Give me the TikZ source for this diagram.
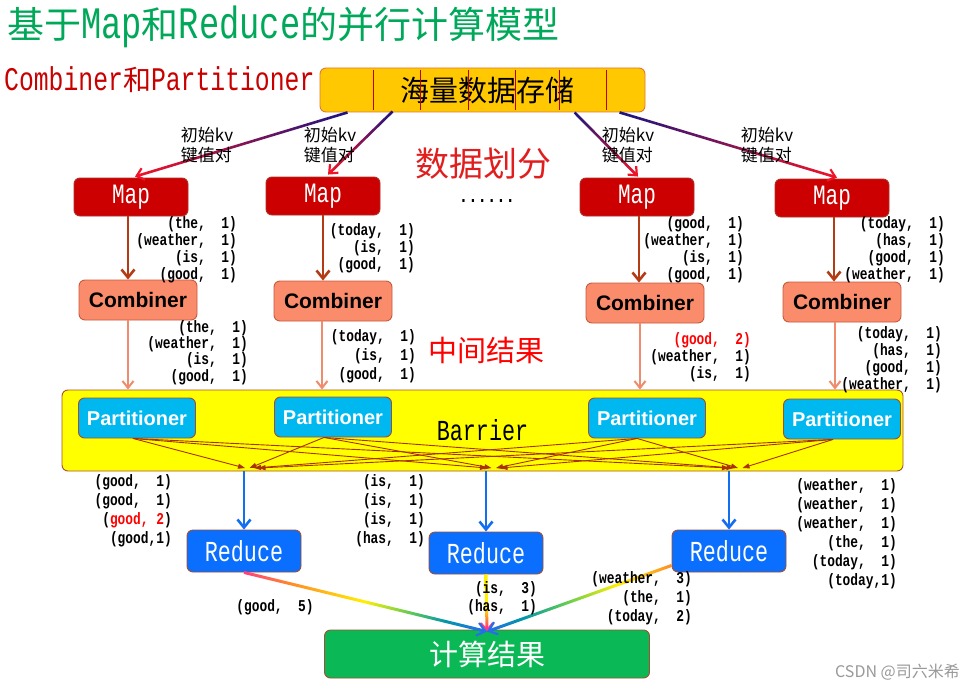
\documentclass[tikz,border=0pt]{standalone}
\usepackage{fontspec}
\usetikzlibrary{arrows.meta,calc}
\newfontfamily\cjk{Noto Sans CJK SC}
\newfontfamily\tallmono{Liberation Mono}[FakeStretch=0.75]
\newfontfamily\kvf{Liberation Mono}[FakeStretch=0.78]
\newfontfamily\sansb{Liberation Sans}
\definecolor{titlegreen}{RGB}{0,168,89}
\definecolor{subred}{RGB}{200,0,0}
\definecolor{storefill}{RGB}{255,200,0}
\definecolor{storeedge}{RGB}{225,120,50}
\definecolor{mapred}{RGB}{204,0,0}
\definecolor{mapedge}{RGB}{170,50,40}
\definecolor{maparr}{RGB}{180,60,20}
\definecolor{combfill}{RGB}{250,140,108}
\definecolor{combedge}{RGB}{200,90,60}
\definecolor{combarr}{RGB}{240,140,110}
\definecolor{barfill}{RGB}{255,255,0}
\definecolor{baredge}{RGB}{170,80,40}
\definecolor{partfill}{RGB}{0,184,240}
\definecolor{partedge}{RGB}{160,80,50}
\definecolor{partarr}{RGB}{170,50,0}
\definecolor{bluearr}{RGB}{20,110,240}
\definecolor{reducefill}{RGB}{10,110,255}
\definecolor{resfill}{RGB}{10,185,85}
\definecolor{navyc}{RGB}{25,20,130}
\definecolor{arrred}{RGB}{240,20,40}
\definecolor{labred}{RGB}{225,30,30}
\definecolor{rbred}{RGB}{255,60,130}
\definecolor{rborange}{RGB}{255,140,40}
\definecolor{rbyellow}{RGB}{255,240,0}
\definecolor{rbgreen}{RGB}{90,200,90}
\definecolor{rbteal}{RGB}{0,150,170}
\definecolor{rbblue}{RGB}{40,110,235}
\pgfdeclarehorizontalshading{rainL}{100bp}{color(0bp)=(rbred); color(25bp)=(rbred); color(35bp)=(rborange); color(50bp)=(rbyellow); color(60bp)=(rbgreen); color(67bp)=(rbteal); color(75bp)=(rbblue); color(100bp)=(rbblue)}
\pgfdeclarehorizontalshading{rainR}{100bp}{color(0bp)=(rbblue); color(25bp)=(rbblue); color(34bp)=(rbteal); color(45bp)=(rbgreen); color(60bp)=(rbyellow); color(75bp)=(rborange); color(100bp)=(rborange)}
\pgfdeclareverticalshading{rainV}{100bp}{color(0bp)=(rbred); color(25bp)=(rbred); color(35bp)=(rborange); color(45bp)=(rbyellow); color(100bp)=(rbyellow)}
\newcommand\gradline[4]{%
  \shade[#1] ($(#2)!#4!90:(#3)$) -- ($(#3)!#4!-90:(#2)$) -- ($(#3)!#4!90:(#2)$) -- ($(#2)!#4!-90:(#3)$) -- cycle;}
\begin{document}
\begin{tikzpicture}[x=1pt,y=-1pt,
  box/.style={draw, rounded corners=6pt, line width=0.9pt, inner sep=0pt},
  storebox/.style={box, fill=storefill, draw=storeedge, minimum width=325pt, minimum height=44pt, font=\cjk\fontsize{29}{29}\selectfont},
  mapbox/.style={box, fill=mapred, draw=mapedge, minimum width=114pt, minimum height=38pt, text=white, font=\tallmono\fontsize{28}{28}\selectfont},
  combbox/.style={box, fill=combfill, draw=combedge, minimum width=118pt, minimum height=40pt, font=\sansb\bfseries\fontsize{21}{21}\selectfont},
  partbox/.style={box, fill=partfill, draw=partedge, minimum width=117pt, minimum height=40pt, text=white, font=\sansb\bfseries\fontsize{20}{20}\selectfont},
  redbox/.style={box, fill=reducefill, draw=partedge, minimum width=114pt, minimum height=42pt, text=white, font=\tallmono\fontsize{29}{29}\selectfont},
  kv/.style={font=\kvf\bfseries\fontsize{16.5}{#1}\selectfont, align=right, inner sep=0pt, anchor=north east},
  kv/.default=17,
  initlab/.style={font=\cjk\fontsize{17}{20}\selectfont, align=left, inner sep=0pt},
  maparrow/.style={draw=maparr, line width=2.6pt, -{Straight Barb[length=8pt,width=13pt]}},
  combarrow/.style={draw=combarr, line width=2pt, -{Straight Barb[length=7pt,width=11pt]}},
  partarrow/.style={draw=partarr, line width=0.9pt, -{Triangle[length=7pt,width=5pt]}},
  bluearrow/.style={draw=bluearr, line width=2.6pt, -{Straight Barb[length=8pt,width=13pt]}},
  ]
\fill[white] (0,0) rectangle (976,690);
\useasboundingbox (0,0) rectangle (976,690);

% titles
\node[anchor=west, inner sep=0pt, text=titlegreen] (title) at (7,27)
  {\cjk\fontsize{37}{37}\selectfont 基于{\tallmono\fontsize{45}{45}\selectfont Map}和{\tallmono\fontsize{45}{45}\selectfont Reduce}的并行计算模型};
\node[anchor=west, inner sep=0pt, text=subred] (sub) at (4,80)
  {\tallmono\fontsize{33}{33}\selectfont Combiner{\cjk\fontsize{28}{28}\selectfont 和}Partitioner};

% storage
\node[storebox] (store) at (482.5,90) {\hspace*{10pt}海量数据存储};
\foreach \dx in {54,101,149,196,240,287}
  \draw[red!75!black, line width=0.35pt] ($(store.north west)+(\dx,2)$) -- ($(store.south west)+(\dx,-2)$);

% maps
\node[mapbox] (m1) at (131,197) {Map};
\node[mapbox] (m2) at (323,196) {Map};
\node[mapbox] (m3) at (637,197) {Map};
\node[mapbox] (m4) at (832,198) {Map};

% gradient arrows store -> maps
\coordinate (s1) at ($(store.south west)+(28,0)$);
\coordinate (s2) at ($(store.south west)+(73,-1)$);
\coordinate (s3) at ($(store.south west)+(255,0)$);
\coordinate (s4) at ($(store.south west)+(300,0)$);
\coordinate (e1) at ([xshift=4pt,yshift=1pt]m1.north);
\coordinate (e2) at ([xshift=5pt,yshift=2pt]m2.north);
\coordinate (e3) at ([xshift=1pt,yshift=1pt]m3.north);
\coordinate (e4) at ([xshift=5pt,yshift=1pt]m4.north);
\gradline{left color=arrred, right color=navyc}{s1}{$(e1)!3pt!(s1)$}{1.3pt}
\gradline{left color=arrred, right color=navyc}{s2}{$(e2)!3pt!(s2)$}{1.3pt}
\gradline{left color=navyc, right color=arrred}{s3}{$(e3)!3pt!(s3)$}{1.3pt}
\gradline{left color=navyc, right color=arrred}{s4}{$(e4)!3pt!(s4)$}{1.3pt}
\foreach \i in {1,...,4}
  \draw[arrred, line width=2.2pt, -{Straight Barb[length=7pt,width=12pt]}] ($(e\i)!6pt!(s\i)$) -- (e\i);

\node[initlab] (k1) at (207,145) {初始kv\\键值对};
\node[initlab] (k2) at (330,145) {初始kv\\键值对};
\node[initlab] (k3) at (628,145) {初始kv\\键值对};
\node[initlab] (k4) at (767,145) {初始kv\\键值对};

\node[text=labred, font=\cjk\fontsize{34}{34}\selectfont, inner sep=0pt] (split) at (483,164) {数据划分};
\node[font=\kvf\bfseries\fontsize{20}{20}\selectfont, inner sep=0pt, anchor=base] (dots) at (487,202) {......};

% combiners
\node[combbox] (c1) at (138,300) {Combiner};
\node[combbox] (c2) at (333,301) {Combiner};
\node[combbox] (c3) at (645,303) {Combiner};
\node[combbox] (c4) at (842,302) {Combiner};

\draw[maparrow] ([xshift=-3pt]m1.south) -- ([xshift=-3pt]m1.south |- c1.north);
\draw[maparrow] (m2.south) -- (m2.south |- c2.north);
\draw[maparrow] ([xshift=2pt]m3.south) -- ([xshift=2pt]m3.south |- c3.north);
\draw[maparrow] ([xshift=2pt]m4.south) -- ([xshift=2pt]m4.south |- c4.north);

% map outputs
\node[kv] (o1) at (237,216) {(the,~~1)\\(weather,~~1)\\(is,~~1)\\(good,~~1)};
\node[kv] (o2) at (415,223) {(today,~~1)\\(is,~~1)\\(good,~~1)};
\node[kv] (o3) at (744,216) {(good,~~1)\\(weather,~~1)\\(is,~~1)\\(good,~~1)};
\node[kv] (o4) at (945,216) {(today,~~1)\\(has,~~1)\\(good,~~1)\\(weather,~~1)};

% barrier and partitioners
\node[box, fill=barfill, draw=baredge, minimum width=841pt, minimum height=81pt, font=\tallmono\fontsize{29}{29}\selectfont] (bar) at (482.5,430.5) {\raisebox{2pt}{Barrier}};
\node[partbox] (p1) at (137,418) {Partitioner};
\node[partbox] (p2) at (333,417) {Partitioner};
\node[partbox] (p3) at (647,418) {Partitioner};
\node[partbox] (p4) at (842,419) {Partitioner};

\draw[combarrow] ([xshift=-10pt]c1.south) -- ([xshift=-10pt]c1.south |- bar.north);
\draw[combarrow] ([xshift=-11pt]c2.south) -- ([xshift=-11pt]c2.south |- bar.north);
\draw[combarrow] ([xshift=-5pt]c3.south) -- ([xshift=-5pt]c3.south |- bar.north);
\draw[combarrow] ([xshift=-7pt]c4.south) -- ([xshift=-7pt]c4.south |- bar.north);

% combiner outputs
\node[kv=16.4] (q1) at (248,320) {(the,~~1)\\(weather,~~1)\\(is,~~1)\\(good,~~1)};
\node[kv=19] (q2) at (416,329) {(today,~~1)\\(is,~~1)\\(good,~~1)};
\node[kv] (q3) at (751,332) {\textcolor{red}{(good,~~2)}\\(weather,~~1)\\(is,~~1)};
\node[kv] (q4) at (942,326) {(today,~~1)\\(has,~~1)\\(good,~~1)\\(weather,~~1)};
\node[text=red, font=\cjk\fontsize{29}{29}\selectfont, inner sep=0pt] (mid) at (486,350) {中间结果};

% partition arrows
\coordinate (ps1) at ([xshift=-4pt]p1.south);
\coordinate (ps2) at ([xshift=-9pt]p2.south);
\coordinate (ps3) at ([xshift=-10pt]p3.south);
\coordinate (ps4) at ([xshift=-9pt]p4.south);
\coordinate (t1) at (245,468);
\coordinate (t2) at (487,468);
\coordinate (t3) at (729,468);
\foreach \s [count=\k] in {ps1,ps2,ps3,ps4}
  \foreach \t in {t1,t2,t3}
    \draw[partarrow] (\s) -- ([xshift={(\k-1)*4.5pt}]\t);

% reducers
\node[redbox] (r1) at (244,551) {Reduce};
\node[redbox] (r2) at (486,553) {Reduce};
\node[redbox] (r3) at (729,551) {Reduce};
\draw[bluearrow] (r1.north |- bar.south) -- (r1.north);
\draw[bluearrow] (r2.north |- bar.south) -- (r2.north);
\draw[bluearrow] (r3.north |- bar.south) -- (r3.north);

\node[kv=19] (i1) at (172,474) {(good,~~1)\\(good,~~1)\\(\textcolor{red}{good,~2})\\(good,1)};
\node[kv=19] (i2) at (425,474) {(is,~~1)\\(is,~~1)\\(is,~~1)\\(has,~~1)};
\node[kv=19] (i3) at (897,478) {(weather,~~1)\\(weather,~~1)\\(weather,~~1)\\(the,~~1)\\(today,~~1)\\(today,1)};

% result
\node[box, fill=resfill, draw=partedge, minimum width=325pt, minimum height=48pt, text=white, font=\cjk\fontsize{29}{29}\selectfont] (res) at (487,654) {计算结果};
\coordinate (rin) at ([yshift=-2pt]res.north);
\coordinate (rs1) at (r1.south);
\coordinate (rs2) at (r2.south);
\coordinate (rs3) at ($(r3.south west)+(0,-7)$);
\gradline{shading=rainL}{rs1}{$(rin)!3pt!(rs1)$}{1.5pt}
\gradline{shading=rainV}{rs2}{$(rin)!3pt!(rs2)$}{1.5pt}
\gradline{shading=rainR}{rs3}{$(rin)!3pt!(rs3)$}{1.5pt}
\draw[rbred, line width=2pt, -{Straight Barb[length=7pt,width=12pt]}] ($(rin)!6pt!(rs2)$) -- (rin);
\draw[rbblue, line width=2.2pt, -{Straight Barb[length=8pt,width=13pt]}] ($(rin)!6pt!(rs1)$) -- (rin);
\draw[rbblue, line width=2.2pt, -{Straight Barb[length=8pt,width=13pt]}] ($(rin)!6pt!(rs3)$) -- (rin);

\node[font=\kvf\bfseries\fontsize{16.5}{17}\selectfont, inner sep=0pt] (g5) at (275,607) {(good,~~5)};
\node[kv=18] (x2) at (537,581) {(is,~~3)\\(has,~~1)};
\node[kv=19] (x3) at (692,571) {(weather,~~3)\\(the,~~1)\\(today,~~2)};

\node[text=black!40, font=\cjk\fontsize{16}{16}\selectfont, inner sep=0pt, anchor=east] (wm) at (960,672) {CSDN @司六米希};
\end{tikzpicture}
\end{document}
